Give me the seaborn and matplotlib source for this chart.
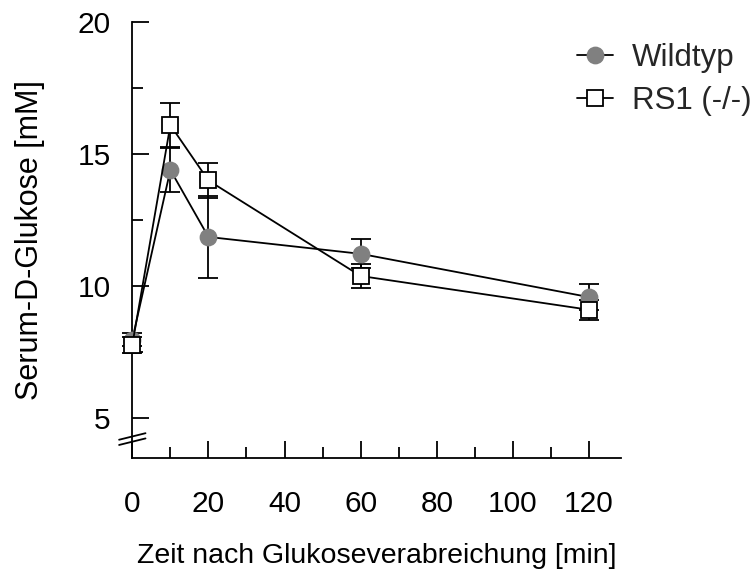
import numpy as np
import pandas as pd
import matplotlib
matplotlib.use("Agg")
import matplotlib.pyplot as plt
import seaborn as sns

# Data
time_min = [0, 10, 20, 60, 120]
wildtyp_mean = [7.97, 14.40, 11.86, 11.22, 9.58]
wildtyp_err = [0.25, 0.85, 1.55, 0.55, 0.48]
rs1_mean = [7.77, 16.10, 14.00, 10.38, 9.10]
rs1_err = [0.30, 0.82, 0.65, 0.47, 0.37]
series_names = ["Wildtyp", "RS1 (-/-)"]
x_ticks = [0, 20, 40, 60, 80, 100, 120]
y_ticks = [5, 10, 15, 20]

sns.set_theme(style="ticks")
plt.rcParams['font.family'] = ['Liberation Sans', 'DejaVu Sans']

fig = plt.figure(figsize=(7.56, 5.69), dpi=100)
ax = fig.add_axes([0.175, 0.195, 0.647, 0.766])

df = pd.DataFrame({
    "t": time_min * 2,
    "y": wildtyp_mean + rs1_mean,
    "g": [series_names[0]] * len(time_min) + [series_names[1]] * len(time_min),
})

styles = {
    series_names[0]: dict(marker="o", mfc="#808080", mec="#808080", err=wildtyp_err),
    series_names[1]: dict(marker="s", mfc="white", mec="black", err=rs1_err),
}

for name in series_names:
    s = styles[name]
    sub = df[df.g == name]
    ax.errorbar(sub.t, sub.y, yerr=s["err"], fmt="none", ecolor="black",
                elinewidth=1.3, capsize=7, capthick=1.3, zorder=2, clip_on=False)
    sns.lineplot(data=sub, x="t", y="y", ax=ax, color="black", lw=1.3,
                 marker=s["marker"], markersize=11.5 if s["marker"] == "o" else 11,
                 markerfacecolor=s["mfc"], markeredgecolor=s["mec"],
                 markeredgewidth=1.3, label=name, zorder=3, clip_on=False)

ax.set_xlim(0, 128.5)
ax.set_ylim(3.48, 20)
ax.set_xticks(x_ticks)
ax.set_xticks([10, 30, 50, 70, 90, 110], minor=True)
ax.set_yticks(y_ticks)
ax.set_yticks([7.5, 12.5, 17.5], minor=True)
ax.tick_params(axis="both", which="major", direction="in", length=12, width=1.3,
               labelsize=21.5, color="black", labelcolor="black")
ax.tick_params(axis="both", which="minor", direction="in", length=8, width=1.3, color="black")
ax.tick_params(axis="x", which="major", pad=23)
ax.tick_params(axis="y", which="major", pad=15.5)
for side in ["top", "right"]:
    ax.spines[side].set_visible(False)
for side in ["left", "bottom"]:
    ax.spines[side].set_linewidth(1.3)
    ax.spines[side].set_color("black")

ax.set_xlabel("Zeit nach Glukoseverabreichung [min]", fontsize=20.5, labelpad=18, color="black")
ax.set_ylabel("Serum-D-Glukose [mM]", fontsize=22, labelpad=23.5, color="black")

# axis break marks
for dy in (0.0, 0.012):
    ax.plot([-0.027, 0.027], [0.03 + dy, 0.045 + dy], transform=ax.transAxes,
            color="black", lw=1.3, clip_on=False)

leg = ax.legend(loc="upper left", bbox_to_anchor=(577 / 756, 1 - 43 / 569),
                bbox_transform=fig.transFigure, frameon=False, borderpad=0,
                borderaxespad=0, fontsize=22.5, handlelength=1.15,
                handletextpad=0.6, labelspacing=0.42)

fig.savefig("out.png", dpi=100)
